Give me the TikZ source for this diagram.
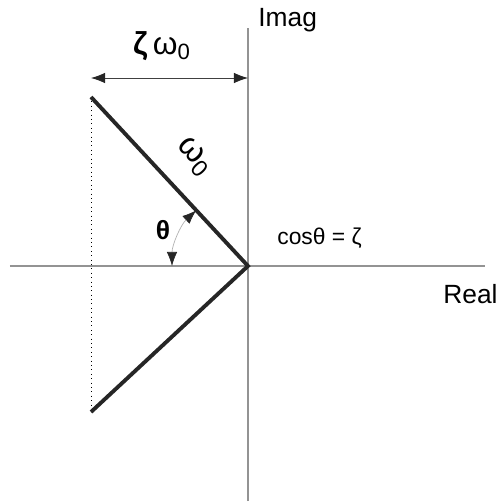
\documentclass[tikz,border=0pt]{standalone}
\usepackage{fontspec}
\setmainfont{Liberation Sans}
\usetikzlibrary{arrows.meta}
\begin{document}
\begin{tikzpicture}[
    axis/.style={draw=gray!85,line width=0.8pt},
    pole/.style={draw=black!85,line width=2.2pt},
    lbl/.style={inner sep=0pt,font=\fontsize{15}{18}\selectfont},
    dim/.style={draw=black!75,line width=0.5pt,{Latex[length=8pt,width=6pt,black!85]}-{Latex[length=8pt,width=6pt,black!85]}}
]
\useasboundingbox (-4.96,-4.72) rectangle (5.04,5.32);

\coordinate (O)  at (0,0);
\coordinate (L)  at (-4.76,0);
\coordinate (R)  at (4.74,0);
\coordinate (T)  at (0,4.76);
\coordinate (B)  at (0,-4.70);
\coordinate (P1) at (-3.14,3.38);
\coordinate (P2) at (-3.14,-2.92);
\coordinate (D1) at (-3.14,3.76);
\coordinate (D2) at (0,3.76);

\draw[axis] (L) -- (R);
\draw[axis] (B) -- (T);
\draw[dotted,line width=0.5pt] (P1) -- (P2);
\draw[pole] (P1) -- (O) -- (P2);
\draw[dim] (D1) -- (D2);
\draw[gray!60,line width=0.4pt,{Latex[length=8pt,width=6pt,black!85]}-{Latex[length=8pt,width=6pt,black!85]}]
    (-1.52,0) arc (180:132.9:1.52);

\node[lbl,anchor=base west] (imag) at (0.2,4.78)   {Imag};
\node[lbl,anchor=base west] (real) at (3.9,-0.74)  {Real};
\node[lbl,font=\fontsize{18}{22}\selectfont] (zw) at (-1.72,4.4) {\textbf{ζ}\,ω\textsubscript{0}};
\node[lbl,rotate=-47,font=\fontsize{19}{22}\selectfont] (w0) at (-1.08,2.18) {ω\textsubscript{0}};
\node[lbl,font=\fontsize{15}{18}\selectfont\bfseries] (th) at (-1.7,0.72) {θ};
\node[lbl,anchor=base west,font=\fontsize{13}{16}\selectfont] (cs) at (0.58,0.42) {cosθ = ζ};
\end{tikzpicture}
\end{document}
